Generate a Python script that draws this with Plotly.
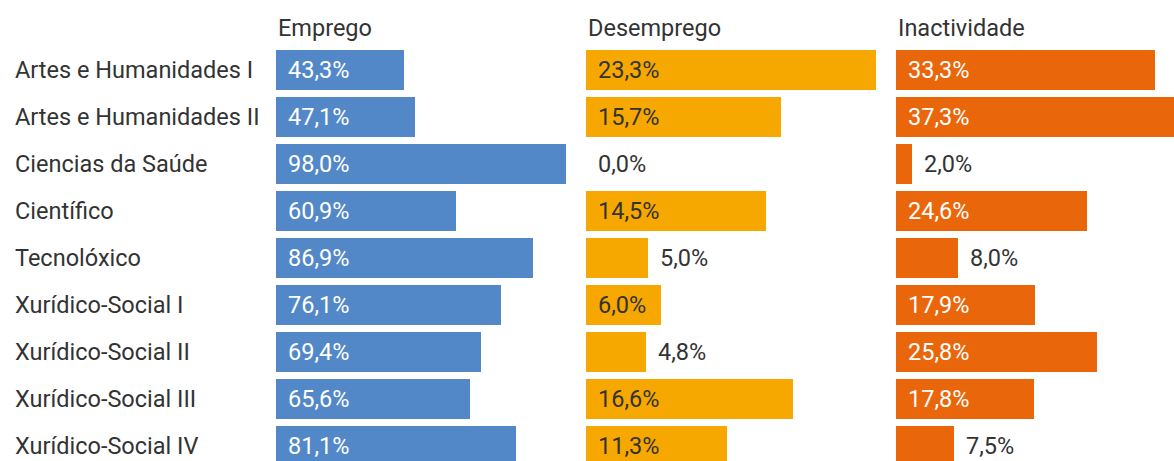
import plotly.graph_objects as go

categories = ["Artes e Humanidades I", "Artes e Humanidades II", "Ciencias da Saúde",
              "Científico", "Tecnolóxico", "Xurídico-Social I", "Xurídico-Social II",
              "Xurídico-Social III", "Xurídico-Social IV"]
headers = ["Emprego", "Desemprego", "Inactividade"]
emprego = [43.3, 47.1, 98.0, 60.9, 86.9, 76.1, 69.4, 65.6, 81.1]
desemprego = [23.3, 15.7, 0.0, 14.5, 5.0, 6.0, 4.8, 16.6, 11.3]
inactividade = [33.3, 37.3, 2.0, 24.6, 8.0, 17.9, 25.8, 17.8, 7.5]

series = [emprego, desemprego, inactividade]
colors = ["#5288C8", "#F6A800", "#EA660A"]
inside_text = ["#FFFFFF", "#333333", "#FFFFFF"]
dark = "#333333"
FONT = "Roboto"
FS = 23.5

W, H = 1174, 461
col_left = [276, 586, 896]
col_w = 290
row0, row_step, bar_h = 70, 47, 40
header_y = 28
label_x = 13
pad = 10


def fmt(v):
    return f"{v:.1f}%".replace(".", ",")


fig = go.Figure()
annotations = []
layout_axes = {}
for k, (vals, col) in enumerate(zip(series, colors)):
    ax = "x" if k == 0 else f"x{k+1}"
    axkey = "xaxis" if k == 0 else f"xaxis{k+1}"
    vmax = max(vals)
    right = min(col_left[k] + col_w, W)
    visible_w = right - col_left[k]
    rng = [0, vmax * visible_w / col_w]
    layout_axes[axkey] = dict(domain=[col_left[k] / W, right / W], range=rng, visible=False,
                              fixedrange=True, anchor="y")
    fig.add_trace(go.Bar(y=categories, x=vals, orientation="h", marker_color=col,
                         marker_line_width=0, width=bar_h / row_step, xaxis=ax, yaxis="y",
                         hoverinfo="skip", showlegend=False))
    scale = col_w / vmax
    for cat, v in zip(categories, vals):
        txt = fmt(v)
        tw = len(txt) * 12
        inside = v * scale >= tw + 2 * pad
        annotations.append(dict(
            x=0 if inside else v, y=cat, xref=ax, yref="y", text=txt,
            xanchor="left", yanchor="middle", xshift=pad, showarrow=False,
            font=dict(family=FONT, size=FS, color=inside_text[k] if inside else dark)))
    annotations.append(dict(x=col_left[k] / W, y=1 - header_y / H, xref="paper", yref="paper",
                            text=headers[k], xanchor="left", yanchor="middle", showarrow=False,
                            font=dict(family=FONT, size=FS, color=dark)))

for i, cat in enumerate(categories):
    annotations.append(dict(x=label_x / W, y=cat, xref="paper", yref="y", text=cat,
                            xanchor="left", yanchor="middle", showarrow=False,
                            font=dict(family=FONT, size=FS, color=dark)))

fig.update_layout(
    width=W, height=H, margin=dict(l=0, r=0, t=0, b=0),
    paper_bgcolor="white", plot_bgcolor="white",
    bargap=0, barmode="overlay",
    yaxis=dict(type="category", categoryorder="array", categoryarray=categories,
               range=[(H - row0) / row_step, -row0 / row_step], visible=False,
               fixedrange=True),
    annotations=annotations,
    font=dict(family=FONT, size=FS, color=dark),
    **layout_axes,
)

fig.write_html("out.html", config={"displayModeBar": False},
               post_script="document.body.style.margin='0';document.body.style.overflow='hidden';")
